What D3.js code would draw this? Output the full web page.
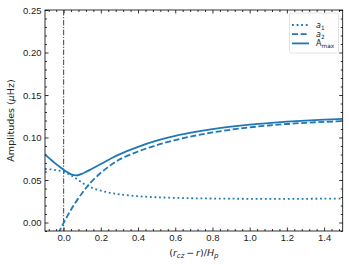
<!DOCTYPE html>
<html>
<head>
<meta charset="utf-8">
<script src="https://cdn.jsdelivr.net/npm/d3@7"></script>
<style>
  body { margin: 0; background: #fff; }
  svg { display: block; font-family: "DejaVu Sans", sans-serif; }
</style>
</head>
<body>
<script>
// sampled positions along (r_cz - r)/H_p
const xs = [-0.1, -0.075, -0.05, -0.025, 0, 0.025, 0.05, 0.075, 0.1, 0.125, 0.15, 0.2, 0.25, 0.3, 0.4, 0.5, 0.6, 0.7, 0.8, 0.9, 1.0, 1.1, 1.2, 1.3, 1.4, 1.5];
const a1 = [0.063, 0.0626, 0.062, 0.061, 0.0596, 0.0573, 0.0542, 0.0505, 0.0467, 0.0435, 0.041, 0.0374, 0.0349, 0.0331, 0.0309, 0.0297, 0.029, 0.0285, 0.0282, 0.028, 0.0279, 0.0279, 0.0279, 0.0279, 0.028, 0.028];
const a2 = [-0.05, -0.0365, -0.0235, -0.0115, -0.0005, 0.0095, 0.0188, 0.0272, 0.0348, 0.0418, 0.048, 0.0585, 0.067, 0.0742, 0.0835, 0.091, 0.097, 0.1018, 0.1059, 0.1092, 0.1119, 0.1141, 0.1159, 0.1173, 0.1184, 0.1193];
const amax = [0.080, 0.0752, 0.0705, 0.0661, 0.0621, 0.0585, 0.0559, 0.0556, 0.0574, 0.0601, 0.063, 0.0688, 0.0747, 0.0802, 0.089, 0.0962, 0.1018, 0.1062, 0.1098, 0.1127, 0.1151, 0.117, 0.1186, 0.1199, 0.121, 0.122];

const xTicks = [0.0, 0.2, 0.4, 0.6, 0.8, 1.0, 1.2, 1.4];
const yTicks = [0.00, 0.05, 0.10, 0.15, 0.20, 0.25];

const width = 349, height = 265;
const margin = { top: 10, right: 6.3, bottom: 34, left: 45 };
const color = "#1f77b4";

const svg = d3.select("body").append("svg")
  .attr("width", width)
  .attr("height", height);

const x_scale = d3.scaleLinear().domain([-0.1, 1.5]).range([margin.left, width - margin.right]);
const y_scale = d3.scaleLinear().domain([-0.01, 0.25]).range([height - margin.bottom, margin.top]);

const x0 = x_scale.range()[0], x1 = x_scale.range()[1];
const y0 = y_scale.range()[0], y1 = y_scale.range()[1];

svg.append("defs").append("clipPath").attr("id", "clip")
  .append("rect")
  .attr("x", x0).attr("y", y1)
  .attr("width", x1 - x0).attr("height", y0 - y1);

// minor ticks
const xMinor = d3.range(-0.08, 1.5001, 0.04).filter(v => Math.abs(Math.round(v * 5) - v * 5) > 1e-6);
const yMinor = d3.range(-0.01, 0.2501, 0.01).filter(v => Math.abs(Math.round(v * 20) - v * 20) > 1e-6);

function tickAxes(axisFn, scale, ticks, size, transform, fmt) {
  const g = svg.append("g")
    .attr("transform", transform)
    .call(axisFn(scale).tickValues(ticks).tickSize(-size).tickPadding(3.5).tickFormat(fmt));
  g.select(".domain").remove();
  g.selectAll("line").attr("stroke", "#000").attr("stroke-width", 0.8);
  g.selectAll("text").attr("font-size", 9.5).attr("fill", "#222");
  return g;
}

const fmt2 = d3.format(".2f"), fmt1 = d3.format(".1f");
// bottom / left with labels
tickAxes(d3.axisBottom, x_scale, xTicks, 3.5, `translate(0,${y0})`, fmt1);
tickAxes(d3.axisBottom, x_scale, xMinor, 2, `translate(0,${y0})`, "");
tickAxes(d3.axisLeft, y_scale, yTicks, 3.5, `translate(${x0},0)`, fmt2);
tickAxes(d3.axisLeft, y_scale, yMinor, 2, `translate(${x0},0)`, "");
// top / right, no labels
tickAxes(d3.axisTop, x_scale, xTicks, 3.5, `translate(0,${y1})`, "");
tickAxes(d3.axisTop, x_scale, xMinor, 2, `translate(0,${y1})`, "");
tickAxes(d3.axisRight, y_scale, yTicks, 3.5, `translate(${x1},0)`, "");
tickAxes(d3.axisRight, y_scale, yMinor, 2, `translate(${x1},0)`, "");

// vertical marker at base of convection zone
svg.append("line")
  .attr("x1", x_scale(0)).attr("x2", x_scale(0))
  .attr("y1", y1).attr("y2", y0)
  .attr("stroke", "#555")
  .attr("stroke-width", 1.1)
  .attr("stroke-dasharray", "5.5,1.6,1.2,1.6");

const plot = svg.append("g").attr("clip-path", "url(#clip)");
const line = (vals) => d3.line()
  .curve(d3.curveCatmullRom.alpha(0.5))
  .x((d, i) => x_scale(xs[i]))
  .y(d => y_scale(d))(vals);

plot.append("path").attr("d", line(a1))
  .attr("fill", "none").attr("stroke", color).attr("stroke-width", 1.8)
  .attr("stroke-dasharray", "1.8,2.8");
plot.append("path").attr("d", line(a2))
  .attr("fill", "none").attr("stroke", color).attr("stroke-width", 1.8)
  .attr("stroke-dasharray", "6,2.6");
plot.append("path").attr("d", line(amax))
  .attr("fill", "none").attr("stroke", color).attr("stroke-width", 1.8);

// frame
svg.append("rect")
  .attr("x", x0).attr("y", y1)
  .attr("width", x1 - x0).attr("height", y0 - y1)
  .attr("fill", "none").attr("stroke", "#000").attr("stroke-width", 0.8);

// axis labels
const ylab = svg.append("text")
  .attr("transform", `translate(14,${(y0 + y1) / 2}) rotate(-90)`)
  .attr("text-anchor", "middle")
  .attr("font-size", 9.5).attr("fill", "#222");
ylab.append("tspan").text("Amplitudes (");
ylab.append("tspan").attr("font-style", "italic").text("μ");
ylab.append("tspan").text("Hz)");

const xlab = svg.append("text")
  .attr("x", (x0 + x1) / 2).attr("y", 256)
  .attr("text-anchor", "middle")
  .attr("font-size", 9.5).attr("fill", "#222");
xlab.append("tspan").text("(");
xlab.append("tspan").attr("font-style", "italic").text("r");
xlab.append("tspan").attr("font-style", "italic").attr("font-size", 7).attr("dy", 2).text("cz");
xlab.append("tspan").attr("dy", -2).text("\u2009−\u2009");
xlab.append("tspan").attr("font-style", "italic").text("r");
xlab.append("tspan").text(")/");
xlab.append("tspan").attr("font-style", "italic").text("H");
xlab.append("tspan").attr("font-style", "italic").attr("font-size", 7).attr("dy", 2).text("p");

// legend
const leg = svg.append("g");
leg.append("rect")
  .attr("x", 289.5).attr("y", 13)
  .attr("width", 49).attr("height", 40)
  .attr("rx", 2).attr("fill", "#fff")
  .attr("stroke", "#ddd").attr("stroke-width", 0.8);
const entries = [
  { dash: "1.8,2.8", label: "a", sub: "1", it: true },
  { dash: "6,2.6", label: "a", sub: "2", it: true },
  { dash: null, label: "A", sub: "max", it: false }
];
entries.forEach((e, i) => {
  const yy = 25 + i * 9.2;
  leg.append("line")
    .attr("x1", 292).attr("x2", 309)
    .attr("y1", yy).attr("y2", yy)
    .attr("stroke", color).attr("stroke-width", 1.8)
    .attr("stroke-dasharray", e.dash);
  const t = leg.append("text")
    .attr("x", 316).attr("y", yy + 3)
    .attr("font-size", 8).attr("fill", "#222");
  t.append("tspan").attr("font-style", e.it ? "italic" : "normal").text(e.label);
  t.append("tspan").attr("font-size", 5.8).attr("dy", 1.8).text(e.sub);
});
</script>
</body>
</html>
